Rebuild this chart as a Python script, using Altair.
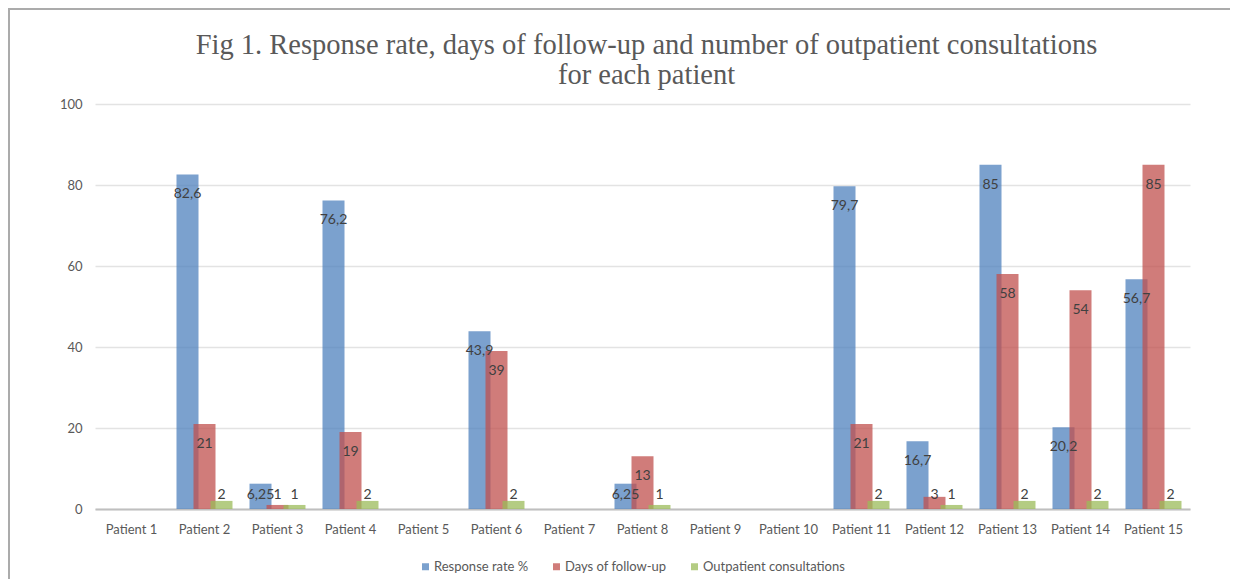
import altair as alt
import pandas as pd

# ---- data ----
patients = [f"Patient {i}" for i in range(1, 16)]
series = ["Response rate %", "Days of follow-up", "Outpatient consultations"]
response_rate = [None, 82.6, 6.25, 76.2, None, 43.9, None, 6.25, None, None, 79.7, 16.7, 85, 20.2, 56.7]
days_follow_up = [None, 21, 1, 19, None, 39, None, 13, None, None, 21, 3, 58, 54, 85]
consultations = [None, 2, 1, 2, None, 2, None, 1, None, None, 2, 1, 2, 2, 2]
colors = ["#4F81BD", "#C0504D", "#9BBB59"]
y_ticks = [0, 20, 40, 60, 80, 100]

rows = []
for s, vals in zip(series, [response_rate, days_follow_up, consultations]):
    for p, v in zip(patients, vals):
        if v is not None:
            rows.append({"patient": p, "series": s, "value": v,
                         "label": f"{v:g}".replace(".", ",")})
df = pd.DataFrame(rows)

offsets = [-17, 0, 17]
W, H = 1095, 405

x_enc = alt.X("patient:N", sort=patients,
              scale=alt.Scale(domain=patients, paddingInner=0, paddingOuter=0),
              axis=alt.Axis(labelAngle=0, ticks=False, domainColor="#BFBFBF", domainWidth=2,
                            labelPadding=14, title=None, grid=False, labelFont="Lato",
                            labelFontSize=13, labelColor="#595959"))
y_scale = alt.Scale(domain=[0, 100], nice=False)
y_axis = alt.Axis(values=y_ticks, grid=True, gridColor="#E3E3E3", gridWidth=1.5, domain=False,
                  ticks=False, labelFont="Lato", labelFontSize=13, labelColor="#595959",
                  labelPadding=13, title=None)

color_enc = alt.Color("series:N", scale=alt.Scale(domain=series, range=colors),
                      legend=alt.Legend(orient="none", legendX=324, legendY=456,
                                        direction="horizontal", title=None, symbolType="square",
                                        symbolSize=49, labelFont="Lato", labelFontSize=13,
                                        labelColor="#595959", columnPadding=21, labelOffset=2,
                                        symbolStrokeWidth=0, symbolOpacity=0.75))

base = alt.Chart(df)
bar_layers = []
text_layers = []
for i, s in enumerate(series):
    bar_layers.append(
        base.transform_filter(alt.datum.series == s)
        .mark_bar(size=22, xOffset=offsets[i], opacity=0.75)
        .encode(x=x_enc, y=alt.Y("value:Q", scale=y_scale, axis=y_axis), color=color_enc)
    )
    text_layers.append(
        base.transform_filter(alt.datum.series == s)
        .transform_calculate(ly="max(datum.value - 4.9, 3.5)")
        .mark_text(xOffset=offsets[i], font="Lato", fontSize=14, color="#404040", baseline="middle")
        .encode(x=x_enc, y=alt.Y("ly:Q", scale=y_scale, axis=y_axis), text="label:N")
    )

border_df = pd.DataFrame({"k": [0]})
top_border = alt.Chart(border_df).mark_rule(color="#ABABAB", strokeWidth=2).encode(
    x=alt.value(-87), x2=alt.value(W + 40), y=alt.value(-95))
left_border = alt.Chart(border_df).mark_rule(color="#ABABAB", strokeWidth=2).encode(
    x=alt.value(-86), y=alt.value(-96), y2=alt.value(H + 70))

chart = alt.layer(*bar_layers, *text_layers, top_border, left_border).properties(
    width=W, height=H,
    padding={"left": 87, "top": 96, "right": 40, "bottom": 70},
    autosize="none",
    title=alt.TitleParams(
        text=["Fig 1. Response rate, days of follow-up and number of outpatient consultations",
              "for each patient"],
        font="Liberation Serif", fontSize=28.5, fontWeight="normal", color="#595959",
        anchor="middle", frame="group", offset=0, lineHeight=30, dx=4, dy=82),
).configure_view(stroke=None)

chart.save("out.html", embed_options={"renderer": "svg", "actions": False})
